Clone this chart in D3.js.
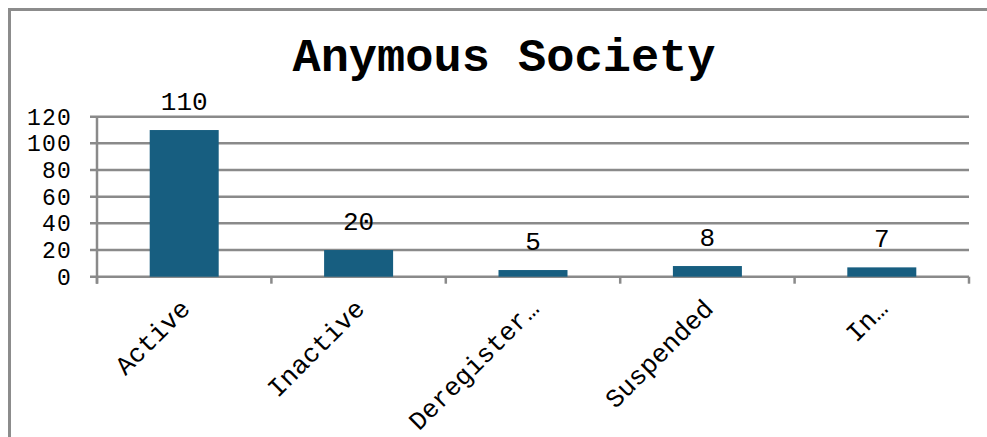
<!DOCTYPE html>
<html>
<head>
<meta charset="utf-8">
<script src="https://cdn.jsdelivr.net/npm/d3@7"></script>
<style>
  html, body { margin: 0; padding: 0; background: #fff; }
  svg { display: block; }
  text { font-family: "Courier New", "Liberation Mono", monospace; fill: #000; }
</style>
</head>
<body>
<svg id="chart" width="987" height="437"></svg>
<script>
const title = "Anymous Society";
const categories = ["Active", "Inactive", "Deregister…", "Suspended", "In…"];
const values = [110, 20, 5, 8, 7];
const yTicks = [0, 20, 40, 60, 80, 100, 120];

const svg = d3.select("#chart");
const W = 987, H = 437;
const margin = { left: 97, right: 18, top: 116.7, bottom: 160.3 };
const plotW = W - margin.left - margin.right;
const plotH = H - margin.top - margin.bottom;

// outer chart border (right/bottom lie outside the view)
svg.append("rect")
  .attr("x", 9.5).attr("y", 9.5)
  .attr("width", 990).attr("height", 440)
  .attr("fill", "none").attr("stroke", "#8c8c8c").attr("stroke-width", 3);

svg.append("text")
  .attr("x", 504).attr("y", 71)
  .attr("text-anchor", "middle")
  .style("font-size", "47px").style("font-weight", "bold")
  .text(title);

const g = svg.append("g").attr("transform", `translate(${margin.left},${margin.top})`);

const xb = d3.scaleBand().domain(categories).range([0, plotW]);
const y = d3.scaleLinear().domain([0, 120]).range([plotH, 0]);

// gridlines
g.selectAll(".grid").data(yTicks).enter().append("line")
  .attr("x1", -7).attr("x2", plotW)
  .attr("y1", d => y(d)).attr("y2", d => y(d))
  .attr("stroke", "#8a8a8a").attr("stroke-width", 2.5);

// y axis line
g.append("line").attr("x1", 0).attr("x2", 0).attr("y1", 0).attr("y2", plotH + 7)
  .attr("stroke", "#8a8a8a").attr("stroke-width", 2.5);

// x-axis boundary ticks
const bounds = categories.map(c => xb(c) + xb.bandwidth()).concat([0]);
g.selectAll(".xt").data(bounds).enter().append("line")
  .attr("x1", d => d).attr("x2", d => d)
  .attr("y1", plotH).attr("y2", plotH + 7)
  .attr("stroke", "#8a8a8a").attr("stroke-width", 2.5);

// y tick labels
g.selectAll(".yl").data(yTicks).enter().append("text")
  .attr("x", -25).attr("y", d => y(d)).attr("dy", "0.35em")
  .attr("text-anchor", "end")
  .style("font-size", "23px").style("letter-spacing", "1.2px")
  .text(d => d);

// bars
const bw = 69;
g.selectAll(".bar").data(values).enter().append("rect")
  .attr("x", (d, i) => xb(categories[i]) + xb.bandwidth() / 2 - bw / 2)
  .attr("width", bw)
  .attr("y", d => y(d))
  .attr("height", d => plotH - y(d))
  .attr("fill", "#175e80");

// value labels
g.selectAll(".vl").data(values).enter().append("text")
  .attr("x", (d, i) => xb(categories[i]) + xb.bandwidth() / 2)
  .attr("y", d => y(d) - 20)
  .attr("text-anchor", "middle")
  .style("font-size", "26px")
  .text(d => d);

// x category labels
g.selectAll(".xl").data(categories).enter().append("text")
  .attr("transform", d => `translate(${xb(d) + xb.bandwidth() / 2 + 1},${plotH + 27}) rotate(-45)`)
  .attr("text-anchor", "end")
  .attr("dy", "0.35em")
  .style("font-size", "26px")
  .text(d => d);
</script>
</body>
</html>
